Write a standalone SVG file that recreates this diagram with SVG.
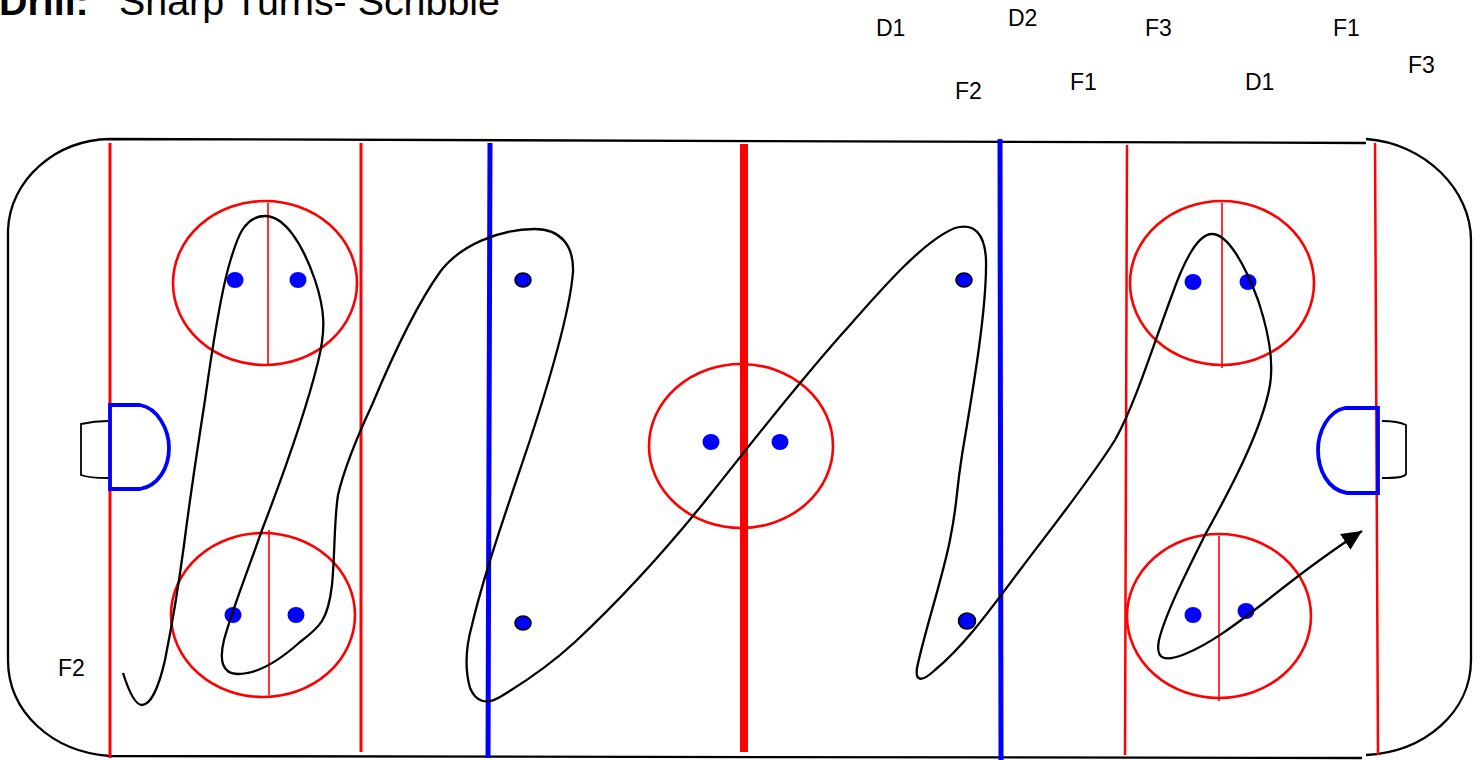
<svg xmlns="http://www.w3.org/2000/svg" width="1481" height="760" viewBox="0 0 1481 760">
<style>
text{font-family:"Liberation Sans",Arial,sans-serif;fill:#000}
.lbl{font-size:23px}
.board{fill:none;stroke:#000;stroke-width:2.300}
.net{fill:none;stroke:#000;stroke-width:1.800}
.red{stroke:#f00;fill:none}
.blue{stroke:#00f;fill:none}
.circle{fill:none;stroke:#f00;stroke-width:2.600}
.dot{fill:#00f}
.dotb{fill:#00f;stroke:#000;stroke-width:1.600}
.crease{fill:none;stroke:#00f;stroke-width:3.800}
</style>
<defs>
<marker id="ah" markerUnits="userSpaceOnUse" markerWidth="24" markerHeight="22" refX="20" refY="10" orient="auto"><path d="M0 0.500L20 10L0 19.500Z" fill="#000"/></marker>
</defs>
<rect width="1481" height="760" fill="#fff"/>
<g id="title"><text x="-1" y="15" font-size="39.400" font-weight="bold">Drill:</text><text x="119" y="15" font-size="39.400">Sharp Turns- Scribble</text></g>
<g id="rink">
<path class="board" d="M110 139L1366 143M1366 139C1425 143 1471 190 1471 240V660C1471 712 1425 752 1366 755M1362 758L110 756C52 752 8 712 8 660V230C10 180 55 140 110 139"/>
<path class="red" stroke-width="3" d="M110 143V758M361 143V752"/>
<path class="red" stroke-width="2.500" d="M1127 145L1125 755M1375 143L1378 755"/>
<path class="blue" stroke-width="5" d="M490 143L488 758M1000 139L1001 760"/>
<path class="red" stroke-width="8" d="M744 144V752"/>
</g>
<g id="circles">
<ellipse class="circle" cx="265" cy="283" rx="92" ry="82"/>
<ellipse class="circle" cx="263" cy="615" rx="92" ry="82"/>
<ellipse class="circle" cx="741" cy="446" rx="92" ry="82"/>
<ellipse class="circle" cx="1222" cy="283" rx="92" ry="82"/>
<ellipse class="circle" cx="1219" cy="616" rx="92" ry="82"/>
<path class="red" stroke-width="1.600" d="M268 203V365M269 530V695M1222 203V368M1219 536V701"/>
</g>
<g id="dots">
<ellipse class="dot" cx="235" cy="280" rx="8.500" ry="8"/><ellipse class="dot" cx="298" cy="280" rx="8.500" ry="8"/>
<ellipse class="dot" cx="233" cy="615" rx="8.500" ry="8"/><ellipse class="dot" cx="296" cy="615" rx="8.500" ry="8"/>
<ellipse class="dot" cx="711" cy="442" rx="8.500" ry="8"/><ellipse class="dot" cx="780" cy="442" rx="8.500" ry="8"/>
<ellipse class="dot" cx="1193" cy="282" rx="8.500" ry="8"/><ellipse class="dot" cx="1248" cy="282" rx="8.500" ry="8"/>
<ellipse class="dot" cx="1193" cy="615" rx="8.500" ry="8"/><ellipse class="dot" cx="1246" cy="611" rx="8.500" ry="8"/>
<ellipse class="dotb" cx="523" cy="280" rx="8" ry="7"/><ellipse class="dotb" cx="523" cy="623" rx="8" ry="7"/>
<ellipse class="dotb" cx="964" cy="280" rx="8" ry="7"/><ellipse class="dotb" cx="967" cy="621" rx="8.500" ry="8"/>
</g>
<g id="goal-left">
<path class="crease" d="M110 405H140C158 408 169 430 169 448C169 468 158 486 140 489H110Z"/>
<path class="net" d="M108 421C100 421 90 422 81 424V475C88 478 100 478 108 478"/>
</g>
<g id="goal-right">
<path class="crease" d="M1378 408H1345C1328 411 1318 432 1318 450C1318 470 1328 490 1347 493H1378Z"/>
<path class="net" d="M1382 421C1392 421 1400 422 1406 425V474C1404 478 1392 478 1382 478"/>
</g>
<g id="connectors">
<path fill="none" stroke="#000" stroke-width="2.300" marker-end="url(#ah)" d="M123 673C129 692 135 705 142 705C152 705 160 682 165 660C172 625 178 590 184 545C191 490 198 445 205 400C212 350 220 295 230 262C237 238 244 216 265 216C285 216 303 245 315 280C325 310 326 330 318 362C305 415 285 470 262 530C248 570 232 610 224 640C219 660 222 674 238 674C258 674 280 660 300 642C320 627 328 620 332 585C335 555 334 520 338 495C345 465 358 435 372 405C395 350 420 300 440 272C460 245 500 229 535 229C560 229 574 245 573 272C570 310 548 385 530 440C510 500 485 570 472 625C465 650 465 670 470 688C476 702 486 705 500 697C525 682 550 665 575 642C620 600 670 545 710 495C750 445 800 380 850 325C885 285 925 240 955 228C975 222 985 235 986 260C987 310 972 395 962 455C955 500 958 500 950 540C942 580 925 630 917 668C915 682 922 682 935 670C965 645 990 610 1020 570C1050 530 1090 480 1115 440C1135 405 1155 340 1172 295C1185 258 1198 234 1212 234C1228 234 1245 265 1258 300C1268 330 1274 360 1270 385C1262 430 1230 490 1205 535C1185 575 1165 615 1159 640C1155 660 1165 662 1185 654C1210 644 1235 625 1265 602C1290 582 1325 555 1362 531"/>
</g>
<g id="labels">
<text class="lbl" x="876" y="36">D1</text>
<text class="lbl" x="1008" y="26">D2</text>
<text class="lbl" x="1145" y="36">F3</text>
<text class="lbl" x="1333" y="36">F1</text>
<text class="lbl" x="1408" y="73">F3</text>
<text class="lbl" x="955" y="99">F2</text>
<text class="lbl" x="1070" y="90">F1</text>
<text class="lbl" x="1245" y="90">D1</text>
<text class="lbl" x="58" y="676">F2</text>
</g>
</svg>
